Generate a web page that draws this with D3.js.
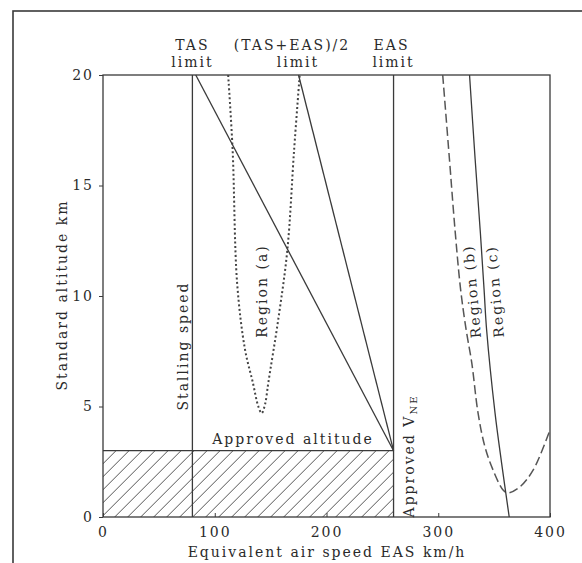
<!DOCTYPE html>
<html>
<head>
<meta charset="utf-8">
<script src="https://cdn.jsdelivr.net/npm/d3@7"></script>
<style>
  body { margin: 0; background: #fff; }
  text { font-family: "DejaVu Serif", serif; fill: #2a2a2a; font-size: 14px; letter-spacing: 2px; }
</style>
</head>
<body>
<svg id="chart" width="582" height="563"></svg>
<script>
// values: [EAS km/h, altitude km]
const xTicks = [0, 100, 200, 300, 400]
const yTicks = [0, 5, 10, 15, 20]
const stallSpeed = 80
const easLimit = 260
const approvedAlt = 3
const tasLimit = [[83, 20], [260, 3]]
const halfLimit = [[175, 20], [260, 3]]
const regionA = [[112, 20], [116, 16.6], [120, 10.6], [127, 7.6], [134, 6.1], [139, 5.0],
  [142, 4.7], [145, 5.1], [148, 6.1], [157, 9.0], [165, 12.1], [171, 16.6], [176, 20]]
const regionB = [[304, 20], [310, 16.2], [315, 13], [320, 10.3], [325, 8.46], [330, 6.97],
  [335.6, 4.71], [341.8, 3.17], [349, 2.13], [358, 1.22], [362.4, 1.09], [373, 1.36],
  [385, 2.13], [400, 3.94]]
const regionC = [[328, 20], [333, 16.2], [337.5, 13], [341, 10.3], [343.3, 8.46],
  [350.8, 4.71], [356.7, 2.44], [363.5, 0]]

const svg = d3.select("#chart")
const ink = "#3a3a3a"

let x = d3.scaleLinear().domain([0, 400]).range([103, 550])
let y = d3.scaleLinear().domain([0, 20]).range([517, 75])

// outer frame of the scanned page
svg.append("rect")
  .attr("x", 13).attr("y", 11).attr("width", 620).attr("height", 620)
  .attr("fill", "none").attr("stroke", ink).attr("stroke-width", 1.6)

// hatched approved region, "/" lines clipped to the box
let x0 = x(0), x1 = x(easLimit), yb = y(0), yt = y(approvedAlt)
svg.append("defs").append("clipPath").attr("id", "hclip")
  .append("rect")
  .attr("x", x0).attr("y", yt).attr("width", x1 - x0).attr("height", yb - yt)
let hh = yb - yt
let offsets = d3.range(x0 - hh, x1, 13)
svg.append("g").attr("clip-path", "url(#hclip)")
  .selectAll("line")
  .data(offsets).enter()
  .append("line")
  .attr("x1", d => d).attr("y1", yb)
  .attr("x2", d => d + hh).attr("y2", yt)
  .attr("stroke", "#555").attr("stroke-width", 1)

// plot box
svg.append("rect")
  .attr("x", x(0)).attr("y", y(20))
  .attr("width", x(400) - x(0)).attr("height", y(0) - y(20))
  .attr("fill", "none").attr("stroke", ink).attr("stroke-width", 1.3)

// axes
let xAxis = svg.append("g")
  .attr("transform", `translate(0,${y(0)})`)
  .call(d3.axisBottom(x).tickValues(xTicks).tickSizeInner(-4).tickSizeOuter(0).tickPadding(10))
let yAxis = svg.append("g")
  .attr("transform", `translate(${x(0)},0)`)
  .call(d3.axisLeft(y).tickValues(yTicks).tickSize(4).tickPadding(5))
for (let ax of [xAxis, yAxis]) {
  ax.select(".domain").remove()
  ax.selectAll("line").attr("stroke", ink)
  ax.selectAll("text").attr("font-family", null).attr("font-size", null).attr("fill", null)
}

// vertical limits
svg.selectAll(".vline")
  .data([stallSpeed, easLimit]).enter()
  .append("line")
  .attr("x1", d => x(d)).attr("x2", d => x(d))
  .attr("y1", y(0)).attr("y2", y(20))
  .attr("stroke", ink).attr("stroke-width", 1.3)

// approved altitude line
svg.append("line")
  .attr("x1", x(0)).attr("x2", x(easLimit))
  .attr("y1", y(approvedAlt)).attr("y2", y(approvedAlt))
  .attr("stroke", ink).attr("stroke-width", 1.3)

let line_gen = d3.line()
  .x(d => x(d[0]))
  .y(d => y(d[1]))
let curve_gen = d3.line()
  .x(d => x(d[0]))
  .y(d => y(d[1]))
  .curve(d3.curveCatmullRom)

svg.append("path").attr("d", line_gen(tasLimit))
  .attr("fill", "none").attr("stroke", ink).attr("stroke-width", 1.3)
svg.append("path").attr("d", line_gen(halfLimit))
  .attr("fill", "none").attr("stroke", ink).attr("stroke-width", 1.3)
svg.append("path").attr("d", curve_gen(regionA))
  .attr("fill", "none").attr("stroke", "#444").attr("stroke-width", 2)
  .attr("stroke-dasharray", "2 2.5")
svg.append("path").attr("d", curve_gen(regionB))
  .attr("fill", "none").attr("stroke", "#555").attr("stroke-width", 1.5)
  .attr("stroke-dasharray", "9 4")
svg.append("path").attr("d", curve_gen(regionC))
  .attr("fill", "none").attr("stroke", ink).attr("stroke-width", 1.3)

// labels
function label(txt, px, py, rot) {
  return svg.append("text")
    .attr("text-anchor", "middle")
    .attr("transform", `translate(${px},${py}) rotate(${rot || 0})`)
    .text(txt)
}
label("TAS", x(stallSpeed), 50)
label("limit", x(stallSpeed), 67)
label("(TAS+EAS)/2", 292, 50)
label("limit", 298, 67)
label("EAS", x(easLimit) - 2, 50)
label("limit", x(easLimit), 67)
label("Approved altitude", 293, y(approvedAlt) - 7)
label("Stalling speed", 188, 346, -90)
label("Region (a)", 267, 291, -90)
label("Region (b)", 477, 291, -95)
label("Region (c)", 500, 291, -95)
let vne = label("Approved V", 414, 456, -90)
vne.append("tspan").attr("font-size", "10px").attr("dy", 3).text("NE")
label("Standard altitude km", 67, 295, -90)
label("Equivalent air speed EAS km/h", 327, 557)
</script>
</body>
</html>
